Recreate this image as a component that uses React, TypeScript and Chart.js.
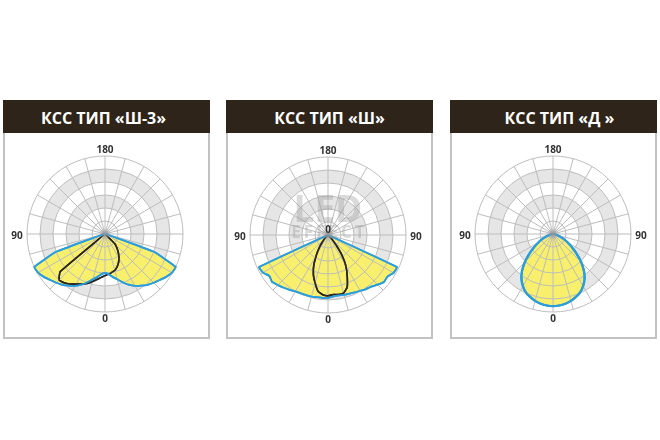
import React, { useEffect, useRef } from "react";
import { Chart, registerables } from "chart.js";

Chart.register(...registerables);

// Angle from nadir (0 = down, 90 = side, 180 = up), 5° steps, clockwise on screen
const ANGLES = [
  0, 5, 10, 15, 20, 25, 30, 35, 40, 45, 50, 55,
  60, 65, 70, 75, 80, 85, 90, 95, 100, 105, 110, 115,
  120, 125, 130, 135, 140, 145, 150, 155, 160, 165, 170, 175,
  180, 185, 190, 195, 200, 205, 210, 215, 220, 225, 230, 235,
  240, 245, 250, 255, 260, 265, 270, 275, 280, 285, 290, 295,
  300, 305, 310, 315, 320, 325, 330, 335, 340, 345, 350, 355,
];

const RING_MAX = 6;
const GRAY_BANDS = [[2, 3], [4, 5]];
const SPOKE_EVERY = 3;

// КСС «Ш-3»
const SH3_BLUE = [
  3.0, 3.1, 3.35, 3.6, 3.95, 4.3, 4.6, 4.85, 5.1, 5.3, 5.5, 5.75,
  5.95, 6.0, 4.0, 0.3, 0.2, 0.15, 0.1, 0, 0, 0, 0, 0,
  0, 0, 0, 0, 0, 0, 0, 0, 0, 0, 0, 0,
  0, 0, 0, 0, 0, 0, 0, 0, 0, 0, 0, 0,
  0, 0, 0, 0, 0, 0, 0.1, 0.15, 0.2, 0.3, 4.0, 6.0,
  5.95, 5.75, 5.5, 5.3, 5.1, 4.85, 4.6, 4.3, 3.95, 3.6, 3.35, 3.1,
];
const SH3_BLACK = [
  3.2, 3.35, 3.55, 3.8, 4.05, 4.25, 4.45, 4.7, 4.9, 5.0, 4.5, 0.1,
  0, 0, 0, 0, 0, 0, 0, 0, 0, 0, 0, 0,
  0, 0, 0, 0, 0, 0, 0, 0, 0, 0, 0, 0,
  0, 0, 0, 0, 0, 0, 0, 0, 0, 0, 0, 0,
  0, 0, 0, 0, 0, 0, 0, 0, 0, 0, 0, 0,
  0, 0, 0, 1.1, 1.45, 1.8, 2.15, 2.45, 2.7, 2.9, 3.0, 3.1,
];

// КСС «Ш»
const SH_BLUE = [
  4.85, 4.85, 4.85, 4.9, 4.92, 4.95, 5.0, 5.15, 5.3, 5.45, 5.62, 5.5,
  5.78, 5.85, 0.05, 0, 0, 0, 0, 0, 0, 0, 0, 0,
  0, 0, 0, 0, 0, 0, 0, 0, 0, 0, 0, 0,
  0, 0, 0, 0, 0, 0, 0, 0, 0, 0, 0, 0,
  0, 0, 0, 0, 0, 0, 0, 0, 0, 0, 0.05, 5.85,
  5.82, 5.58, 5.62, 5.4, 5.18, 5.08, 4.96, 4.88, 4.8, 4.76, 4.72, 4.74,
];
const SH_BLACK = [
  4.68, 4.62, 4.4, 3.83, 3.28, 2.6, 1.78, 1.12, 0.6, 0.25, 0, 0,
  0, 0, 0, 0, 0, 0, 0, 0, 0, 0, 0, 0,
  0, 0, 0, 0, 0, 0, 0, 0, 0, 0, 0, 0,
  0, 0, 0, 0, 0, 0, 0, 0, 0, 0, 0, 0,
  0, 0, 0, 0, 0, 0, 0, 0, 0, 0, 0, 0,
  0, 0, 0.05, 0.3, 0.85, 1.8, 2.75, 3.5, 4.3, 4.62, 4.65, 4.6,
];

// КСС «Д»
const D_BLUE = [
  5.55, 5.52, 5.45, 5.33, 5.15, 4.95, 4.63, 4.23, 3.71, 3.07, 2.38, 1.78,
  1.28, 0.9, 0.58, 0.35, 0.2, 0.1, 0.05, 0, 0, 0, 0, 0,
  0, 0, 0, 0, 0, 0, 0, 0, 0, 0, 0, 0,
  0, 0, 0, 0, 0, 0, 0, 0, 0, 0, 0, 0,
  0, 0, 0, 0, 0, 0, 0.05, 0.1, 0.2, 0.35, 0.58, 0.9,
  1.28, 1.78, 2.38, 3.07, 3.71, 4.23, 4.63, 4.95, 5.15, 5.33, 5.45, 5.52,
];

const TITLES = ["КСС ТИП «Ш-3»", "КСС ТИП «Ш»", "КСС ТИП «Д »"];
const LABEL_TOP = "180";
const LABEL_SIDE = "90";
const LABEL_BOTTOM = "0";
const LABEL_CENTER = "0";
const WATERMARK = ["LED", "EFFECT"];

const YELLOW = "#f8f06c";
const BLUE = "#2a9ddb";
const BLACK = "#2a2522";
const GRID = "#bdbdbd";
const BAND = "#e6e6e6";
const HEADER = "#2e2419";
const LABEL_COLOR = "#333333";

type Series = { data: number[]; color: string; width: number; fill: boolean; tension: number };

function Polar(props: {
  cx: number;
  cy: number;
  series: Series[];
  showRight: boolean;
  centerLabel?: boolean;
  watermark?: boolean;
}) {
  const ref = useRef<HTMLCanvasElement>(null);
  useEffect(() => {
    const { series, showRight, centerLabel, watermark } = props;
    const plugin = {
      id: "kssDecor",
      beforeDraw(chart: any) {
        const s = chart.scales.r;
        const ctx = chart.ctx;
        ctx.save();
        ctx.fillStyle = BAND;
        for (const [a, b] of GRAY_BANDS) {
          ctx.beginPath();
          ctx.arc(s.xCenter, s.yCenter, s.getDistanceFromCenterForValue(b), 0, Math.PI * 2);
          ctx.arc(s.xCenter, s.yCenter, s.getDistanceFromCenterForValue(a), 0, Math.PI * 2, true);
          ctx.fill();
        }
        ctx.restore();
      },
      afterDraw(chart: any) {
        const s = chart.scales.r;
        const ctx = chart.ctx;
        const cx = s.xCenter;
        const cy = s.yCenter;
        const R = s.drawingArea;
        // redraw curve outlines above the grid
        const order = chart.data.datasets.map((_: any, i: number) => i).reverse();
        for (const i of order) {
          const meta = chart.getDatasetMeta(i);
          meta.dataset.draw(ctx, chart.chartArea);
        }
        // centre hub
        ctx.save();
        const g = ctx.createRadialGradient(cx, cy, 0, cx, cy, 6);
        g.addColorStop(0, "rgba(150,150,150,0.9)");
        g.addColorStop(1, "rgba(150,150,150,0)");
        ctx.fillStyle = g;
        ctx.beginPath();
        ctx.arc(cx, cy, 6, 0, Math.PI * 2);
        ctx.fill();
        ctx.restore();

        ctx.save();
        if (watermark) {
          ctx.fillStyle = "rgba(150,150,150,0.35)";
          ctx.textAlign = "center";
          ctx.textBaseline = "middle";
          ctx.font = "700 37px 'Open Sans', sans-serif";
          ctx.fillText(WATERMARK[0], cx, cy - 24);
          ctx.font = "700 17px 'Open Sans', sans-serif";
          (ctx as any).letterSpacing = "3px";
          ctx.fillText(WATERMARK[1], cx + 1.5, cy - 2);
          (ctx as any).letterSpacing = "0px";
        }
        ctx.fillStyle = LABEL_COLOR;
        ctx.textAlign = "center";
        ctx.textBaseline = "middle";
        ctx.font = "700 10px 'Open Sans', sans-serif";
        ctx.fillText(LABEL_TOP, cx, cy - R - 6);
        ctx.fillText(LABEL_BOTTOM, cx, cy + R + 7);
        ctx.fillText(LABEL_SIDE, cx - R - 10, cy + 2);
        if (showRight) ctx.fillText(LABEL_SIDE, cx + R + 10, cy + 2);
        if (centerLabel) ctx.fillText(LABEL_CENTER, cx, cy - 5);
        ctx.restore();
      },
    };
    const chart = new Chart(ref.current as HTMLCanvasElement, {
      type: "radar",
      data: {
        labels: ANGLES,
        datasets: series.map((s, i) => ({
          data: s.data,
          borderColor: s.color,
          borderWidth: s.width,
          backgroundColor: s.fill ? YELLOW : "transparent",
          fill: s.fill ? "origin" : false,
          tension: s.tension,
          pointRadius: 0,
          order: series.length - i,
        })),
      } as any,
      options: {
        responsive: false,
        animation: false,
        devicePixelRatio: 1,
        layout: { padding: 22 },
        plugins: { legend: { display: false }, tooltip: { enabled: false } },
        elements: { point: { radius: 0 }, line: { borderJoinStyle: "round" } },
        scales: {
          r: {
            min: 0,
            max: RING_MAX,
            startAngle: 180,
            ticks: { display: false, stepSize: 1 },
            pointLabels: { display: false },
            grid: { circular: true, color: GRID, lineWidth: 1, z: 1 },
            angleLines: {
              color: GRID,
              lineWidth: (c: any) => (c.index % SPOKE_EVERY === 0 ? 1 : 0),
            },
          },
        },
      } as any,
      plugins: [plugin],
    });
    return () => chart.destroy();
  }, []);
  return (
    <canvas
      ref={ref}
      width={200}
      height={200}
      style={{ position: "absolute", left: props.cx - 100, top: props.cy - 100, width: 200, height: 200 }}
    />
  );
}

function Panel(props: { left: number; title: string; shift: number }) {
  return (
    <div style={{ position: "absolute", left: props.left, top: 100, width: 207, height: 239 }}>
      <div
        style={{
          position: "absolute",
          left: 0,
          top: 0,
          width: 207,
          height: 33,
          background: HEADER,
          color: "#ffffff",
          font: "700 16px 'Open Sans', sans-serif",
          display: "flex",
          alignItems: "center",
          justifyContent: "center",
          paddingTop: 3,
          boxSizing: "border-box",
          whiteSpace: "pre",
        }}
      >
        <span style={{ transform: `translateX(${props.shift}px)` }}>{props.title}</span>
      </div>
      <div
        style={{
          position: "absolute",
          left: 0,
          top: 33,
          width: 207,
          height: 206,
          borderLeft: "2px solid #c2c2c2",
          borderRight: "2px solid #c2c2c2",
          borderBottom: "2px solid #c2c2c2",
          boxSizing: "border-box",
        }}
      />
    </div>
  );
}

export default function App() {
  return (
    <div
      style={{
        position: "absolute",
        left: 0,
        top: 0,
        width: 660,
        height: 440,
        background: "#ffffff",
        overflow: "hidden",
      }}
    >
      <Panel left={3} title={TITLES[0]} shift={-3} />
      <Panel left={226} title={TITLES[1]} shift={0} />
      <Panel left={450} title={TITLES[2]} shift={6} />
      <Polar
        cx={105}
        cy={234}
        showRight={false}
        series={[
          { data: SH3_BLUE, color: BLUE, width: 1.8, fill: true, tension: 0.1 },
          { data: SH3_BLACK, color: BLACK, width: 1.6, fill: false, tension: 0.1 },
        ]}
      />
      <Polar
        cx={328}
        cy={235}
        showRight={true}
        centerLabel={true}
        watermark={true}
        series={[
          { data: SH_BLUE, color: BLUE, width: 1.8, fill: true, tension: 0.1 },
          { data: SH_BLACK, color: BLACK, width: 1.6, fill: false, tension: 0.1 },
        ]}
      />
      <Polar
        cx={553}
        cy={234}
        showRight={true}
        series={[{ data: D_BLUE, color: BLUE, width: 2.2, fill: true, tension: 0.3 }]}
      />
    </div>
  );
}
